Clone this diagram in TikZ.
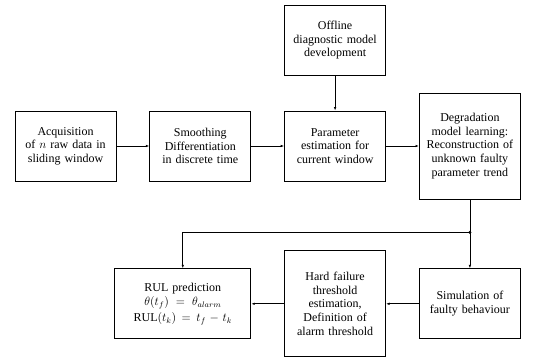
\documentclass[tikz,border=0pt]{standalone}
\usepackage{fontspec}
\setmainfont{Liberation Serif}
\usetikzlibrary{positioning,arrows.meta}
\tikzset{
  blk/.style={draw, thick, align=center, text width=98pt, inner sep=1pt,
    minimum width=101pt, minimum height=70pt, font=\fontsize{12}{13.6}\selectfont},
  flow/.style={thick, -{Latex[length=3.5pt,width=2.5pt]}}
}
\begin{document}
\begin{tikzpicture}[line width=0.5pt]
        \useasboundingbox (0,0) rectangle (543pt,-356pt);

        \node (acq) [blk] at (65.5pt,-146pt) {Acquisition\\of $n$ raw data in\\sliding window};
        \node (smo) [blk, right=33pt of acq] {Smoothing\\Differentiation\\in discrete time};
        \node (par) [blk, right=33pt of smo] {Parameter\\estimation for\\current window};
        \node (deg) [blk, right=33pt of par, minimum height=106pt] {Degradation\\model learning:\\Reconstruction of\\unknown faulty\\parameter trend};
        \node (off) [blk, above=35pt of par] {Offline\\diagnostic model\\development};

        \node (sim) [blk, below=69pt of deg] {Simulation of\\faulty behaviour};
        \node (thr) [blk, left=33pt of sim, minimum height=106pt] {Hard failure\\threshold\\estimation,\\Definition of\\alarm threshold};
        \node (rul) [blk, left=33pt of thr, text width=130pt, minimum width=136pt] {RUL prediction\\[1pt]$\theta(t_f)=\theta_{alarm}$\\[2pt]RUL$(t_k)=t_f-t_k$};

        \coordinate [below=33pt of deg] (split);
        \fill (split) circle (1.6pt);

        \draw [flow] (acq) -- (smo);
        \draw [flow] (smo) -- (par);
        \draw [flow] (par) -- (deg);
        \draw [flow] (off) -- (par);
        \draw [thick] (deg) -- (split);
        \draw [flow] (split) -- (sim);
        \draw [flow] (split) -| (rul.north);
        \draw [flow] (sim) -- (thr);
        \draw [flow] (thr) -- (rul);
      \end{tikzpicture}
\end{document}
